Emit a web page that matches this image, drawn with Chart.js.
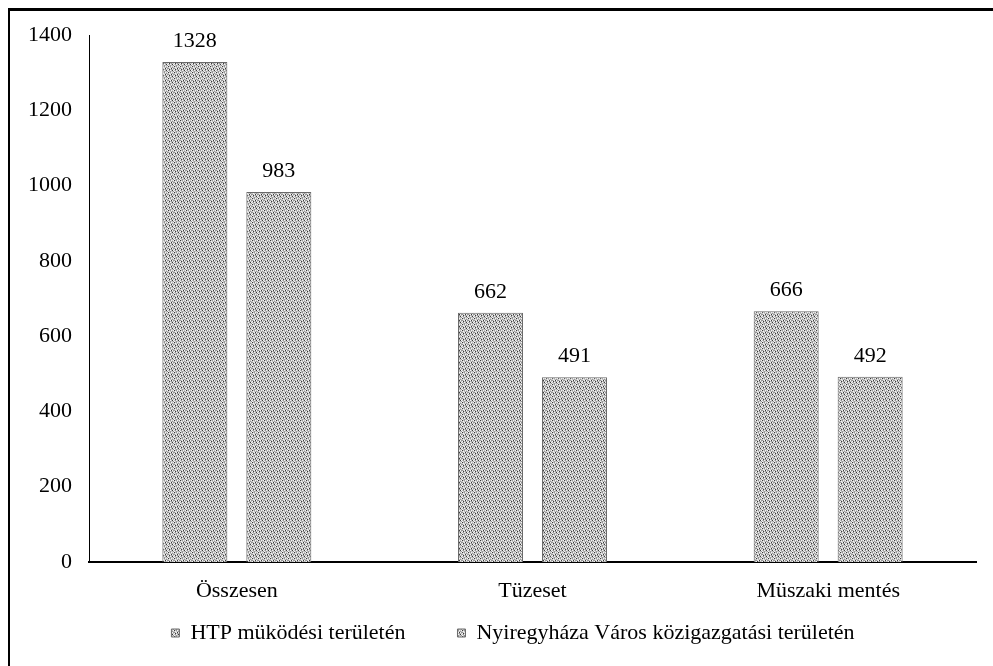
<!DOCTYPE html>
<html>
<head>
<meta charset="utf-8">
<script src="https://cdn.jsdelivr.net/npm/chart.js@4/dist/chart.umd.min.js"></script>
<style>
  html, body { margin: 0; padding: 0; background: #fff; }
  #wrap { position: relative; width: 993px; height: 666px; }
  #frame { position: absolute; left: 8px; top: 8px; right: 0; bottom: 0;
           border-top: 3px solid #000; border-left: 2px solid #000; pointer-events: none; }
  canvas { position: absolute; left: 0; top: 0; }
</style>
</head>
<body>
<div id="wrap">
  <canvas id="c" width="993" height="666"></canvas>
  <div id="frame"></div>
</div>
<script>
const categories = ['Összesen', 'Tüzeset', 'Müszaki mentés'];
const seriesNames = ['HTP müködési területén', 'Nyiregyháza Város közigazgatási területén'];
const htpValues = [1328, 662, 666];
const cityValues = [983, 491, 492];
const yTicks = [0, 200, 400, 600, 800, 1000, 1200, 1400];

// stippled grey fill similar to the scanned halftone
function makePattern() {
  const tile = [
    [0, 2, 1, 3, 2, 3],
    [2, 3, 2, 2, 1, 2],
    [1, 2, 3, 0, 3, 1],
    [3, 0, 2, 1, 2, 2],
    [2, 1, 3, 2, 0, 3],
    [3, 2, 1, 2, 2, 1]
  ];
  const tones = ['#3a3a3a', '#959595', '#c4c4c4', '#f4f4f4'];
  const cv = document.createElement('canvas');
  cv.width = 6; cv.height = 6;
  const g = cv.getContext('2d');
  for (let y = 0; y < 6; y++) for (let x = 0; x < 6; x++) {
    g.fillStyle = tones[tile[y][x]];
    g.fillRect(x, y, 1, 1);
  }
  return g.createPattern(cv, 'repeat');
}
const pat = makePattern();
const FONT = "'Liberation Serif', 'Times New Roman', serif";

const valueLabels = {
  id: 'valueLabels',
  afterDatasetsDraw(chart) {
    const ctx = chart.ctx;
    ctx.save();
    ctx.font = '22px ' + FONT;
    ctx.fillStyle = '#000';
    ctx.textAlign = 'center';
    ctx.textBaseline = 'alphabetic';
    chart.data.datasets.forEach((ds, i) => {
      chart.getDatasetMeta(i).data.forEach((bar, j) => {
        ctx.fillText(String(ds.data[j]), bar.x, bar.y - 15);
      });
    });
    ctx.restore();
  }
};

// place the legend row where the reference has it
const legendPlacer = {
  id: 'legendPlacer',
  afterLayout(chart) {
    const lg = chart.legend;
    if (!lg) return;
    const h = lg.height;
    lg.top = 570; lg.bottom = 570 + h;
    lg.left += 40;
  }
};

new Chart(document.getElementById('c'), {
  type: 'bar',
  data: {
    labels: categories,
    datasets: [
      { label: seriesNames[0], data: htpValues, backgroundColor: pat, borderColor: '#6a6a6a', borderWidth: 1 },
      { label: seriesNames[1], data: cityValues, backgroundColor: pat, borderColor: '#6a6a6a', borderWidth: 1 }
    ]
  },
  options: {
    responsive: false,
    animation: false,
    devicePixelRatio: 1,
    layout: { padding: { left: 10, right: 17, top: 35, bottom: -30 } },
    datasets: { bar: { categoryPercentage: 0.568, barPercentage: 0.774 } },
    plugins: {
      tooltip: { enabled: false },
      legend: {
        position: 'bottom',
        labels: {
          font: { family: FONT, size: 22 },
          color: '#000',
          boxWidth: 8,
          boxHeight: 8,
          padding: 52
        }
      }
    },
    scales: {
      x: {
        grid: { display: false, drawTicks: false },
        border: { display: true, color: '#000', width: 2 },
        ticks: { font: { family: FONT, size: 22 }, color: '#000', padding: 16 },
        afterFit(s) { s.height = 50; }
      },
      y: {
        min: 0,
        max: 1400,
        grid: { display: false, drawTicks: false },
        border: { display: true, color: '#000', width: 1 },
        ticks: { font: { family: FONT, size: 22 }, color: '#000', padding: 17, stepSize: 200,
                 callback: v => String(v) },
        afterBuildTicks(s) { s.ticks = yTicks.map(v => ({ value: v })); },
        afterFit(s) { s.width = 79; }
      }
    }
  },
  plugins: [valueLabels, legendPlacer]
});
</script>
</body>
</html>
